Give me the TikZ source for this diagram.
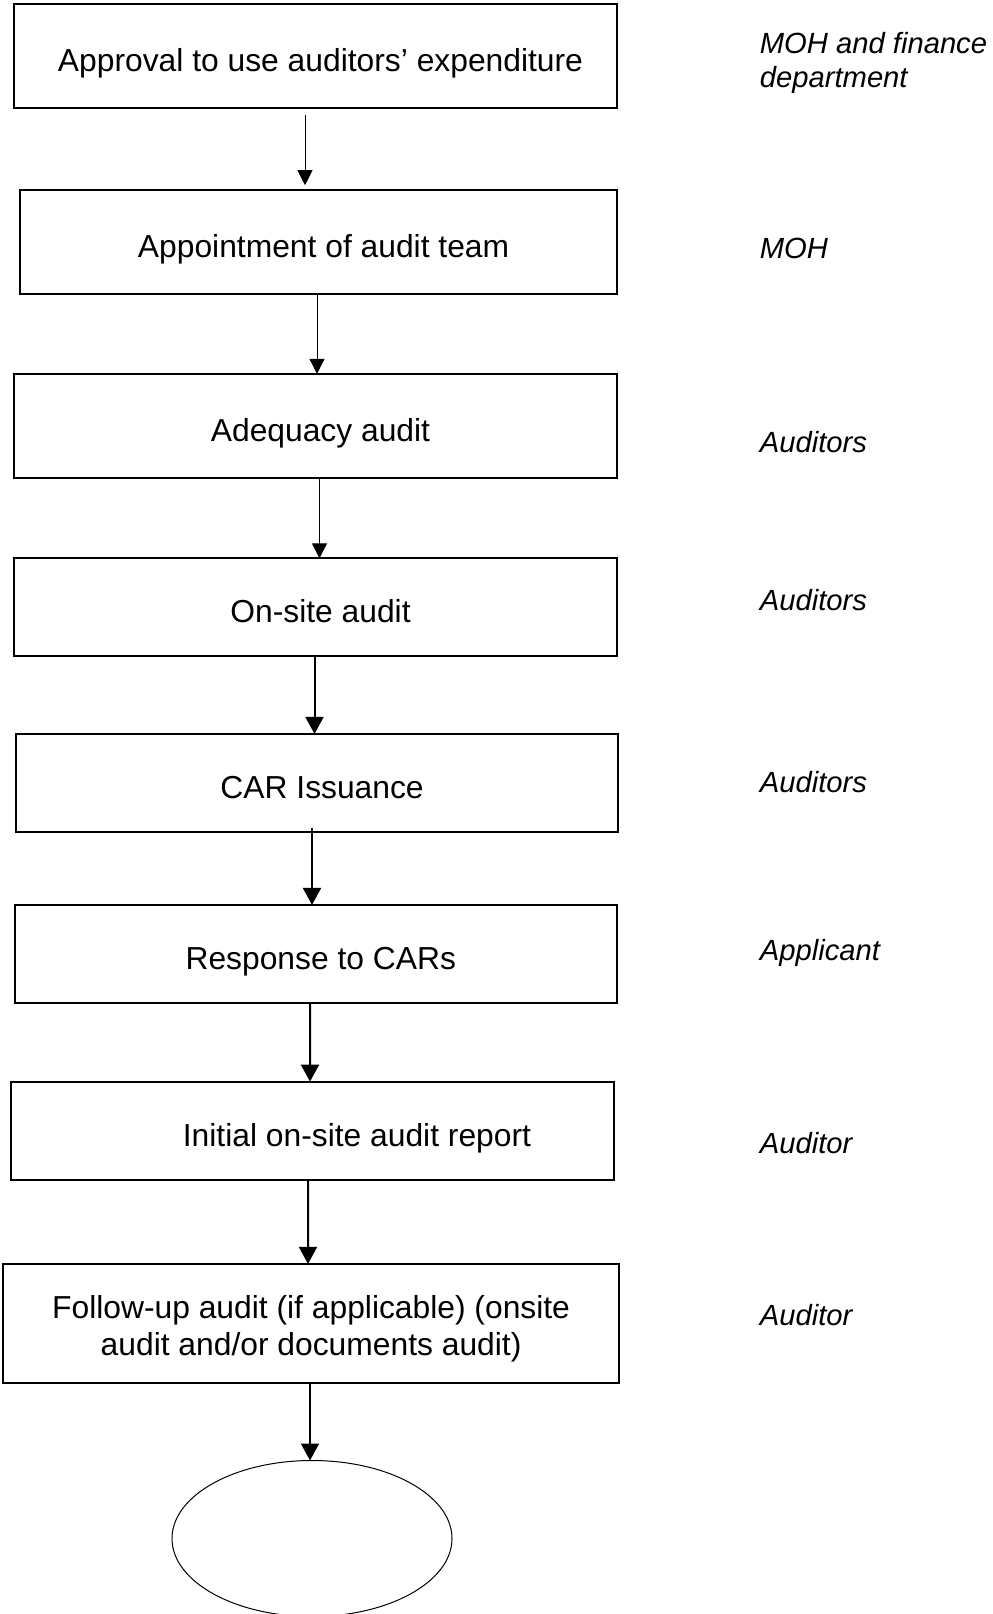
\documentclass[tikz,border=0pt]{standalone}
\usepackage{fontspec}
\setmainfont{Liberation Sans}
\usetikzlibrary{arrows.meta,shapes.geometric}
\tikzset{
  stagebox/.style={draw, rectangle, line width=1pt, inner sep=0pt, outer sep=0pt, align=center, font=\fontsize{15.9}{18.5}\selectfont},
  oneline/.style={text height=19pt, text depth=3.5pt, execute at begin node=\hspace*{5pt}},
  role/.style={inner sep=0pt, anchor=base west, align=left, font=\fontsize{14.6}{17}\selectfont\itshape},
  thinflow/.style={-{Triangle[length=7.5pt,width=7.5pt]}, line width=0.5pt},
  thickflow/.style={-{Triangle[length=8.5pt,width=9pt]}, line width=1pt}
}
\begin{document}
\begin{tikzpicture}[x=0.5pt,y=-0.5pt]
\useasboundingbox (0,0) rectangle (992,1614);
\node[stagebox, oneline, minimum width=301.5pt, minimum height=52pt] (approval) at (315.5,55.5) {Approval to use auditors’ expenditure};
\node[stagebox, oneline, minimum width=298.5pt, minimum height=52pt] (team) at (318.6,242.2) {Appointment of audit team};
\node[stagebox, oneline, minimum width=301.5pt, minimum height=52pt] (adequacy) at (315.5,425.8) {Adequacy audit};
\node[stagebox, oneline, minimum width=301.5pt, minimum height=48.9pt] (onsite) at (315.5,607.2) {On-site audit};
\node[stagebox, oneline, minimum width=301.3pt, minimum height=48.9pt] (car) at (317.1,782.8) {CAR Issuance};
\node[stagebox, oneline, minimum width=301.2pt, minimum height=48.9pt] (response) at (315.8,953.8) {Response to CARs};
\node[stagebox, oneline, minimum width=301.3pt, minimum height=49.2pt] (report) at (312.7,1130.8) {\hspace*{39.3pt}Initial on-site audit report};
\node[stagebox, minimum width=307.9pt, minimum height=59.4pt] (followup) at (311.1,1323.3) {\rule{0pt}{17pt}Follow-up audit (if applicable) (onsite\\audit and/or documents audit)};
\node[draw, ellipse, line width=0.5pt, inner sep=0pt, outer sep=0pt, minimum width=140pt, minimum height=78pt] (finish) at (312,1538.5) {};
\node[role, anchor=north west] (rapproval) at (759.5,32) {MOH and finance\\department};
\node[role] (rteam) at (759.5,258.5) {MOH};
\node[role] (radequacy) at (759.5,452.5) {Auditors};
\node[role] (ronsite) at (759.5,610.5) {Auditors};
\node[role] (rcar) at (759.5,792.5) {Auditors};
\node[role] (rresponse) at (759.5,960.5) {Applicant};
\node[role] (rreport) at (759.5,1153.5) {Auditor};
\node[role] (rfollowup) at (759.5,1325.5) {Auditor};
\draw[thinflow] ([xshift=-5.25pt,yshift=-3.5pt]approval.south) -- ([xshift=-6.8pt,yshift=2.5pt]team.north);
\draw[thinflow] ([xshift=-0.8pt]team.south) -- ([xshift=0.75pt]adequacy.north);
\draw[thinflow] ([xshift=2pt]adequacy.south) -- ([xshift=2pt]onsite.north);
\draw[thickflow] ([xshift=-0.5pt]onsite.south) -- ([xshift=-1.3pt]car.north);
\draw[thickflow] ([xshift=-2.55pt,yshift=2pt]car.south) -- ([xshift=-1.9pt]response.north);
\draw[thickflow] ([xshift=-2.9pt]response.south) -- ([xshift=-1.35pt]report.north);
\draw[thickflow] ([xshift=-2.35pt]report.south) -- ([xshift=-1.55pt]followup.north);
\draw[thickflow] ([xshift=-0.55pt]followup.south) -- ([xshift=-1pt]finish.north);
\end{tikzpicture}
\end{document}
